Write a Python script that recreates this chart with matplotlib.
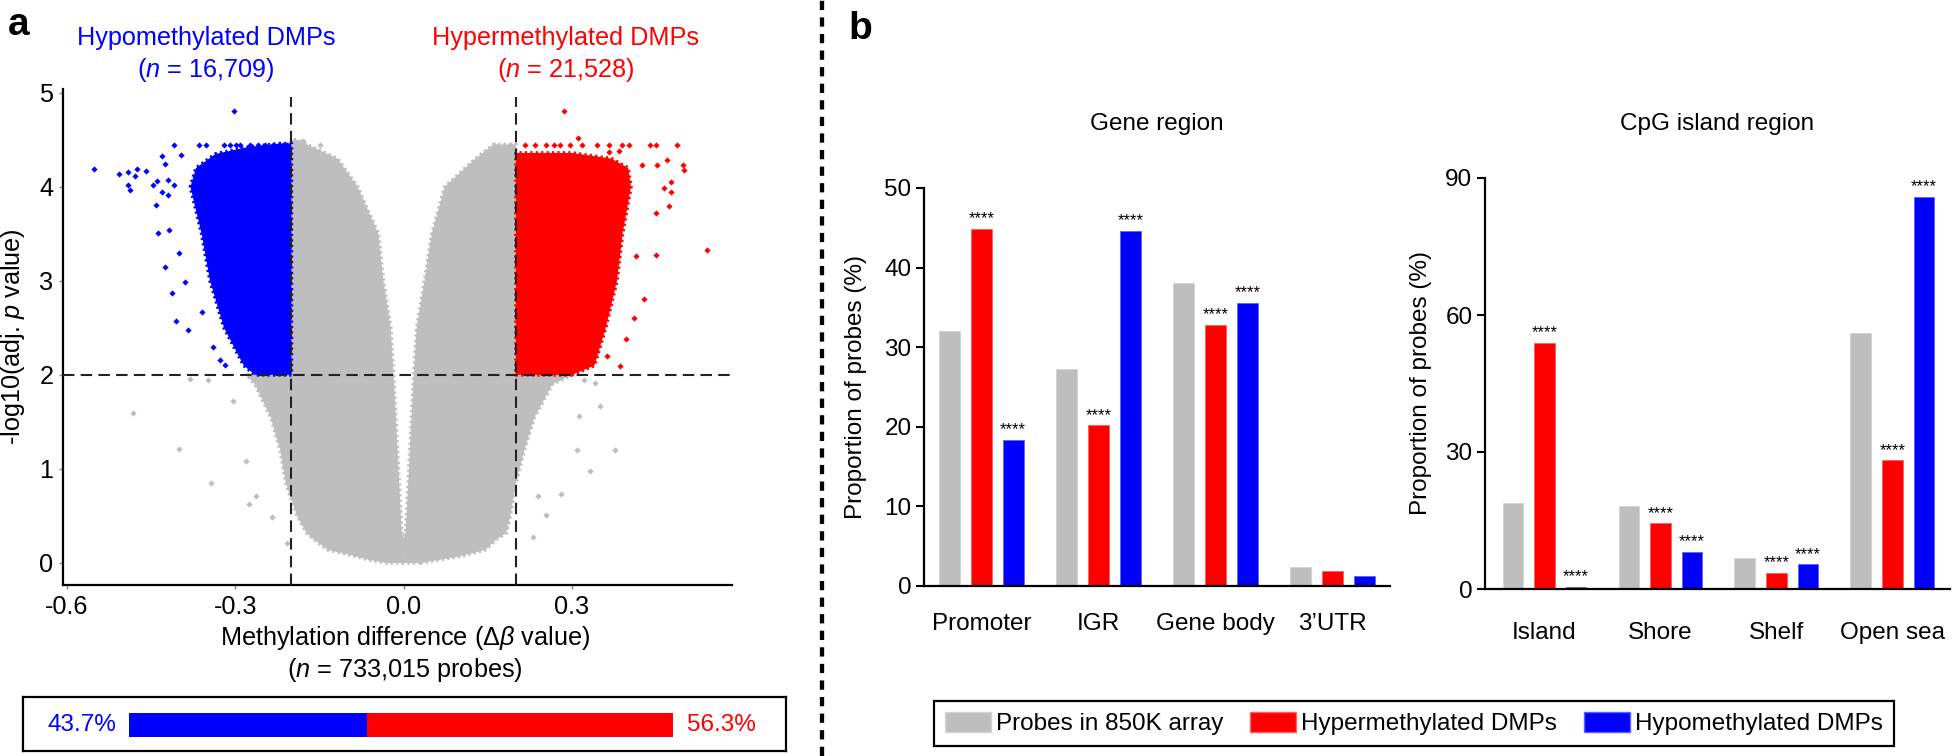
import matplotlib.pyplot as plt
from matplotlib.patches import Patch
from matplotlib.lines import Line2D

plt.rcParams['font.family'] = ['Liberation Sans', 'DejaVu Sans']
plt.rcParams['mathtext.fontset'] = 'custom'
plt.rcParams['mathtext.rm'] = 'Liberation Sans'
plt.rcParams['mathtext.it'] = 'Liberation Sans:italic'
plt.rcParams['axes.unicode_minus'] = False

GRAY = '#bebebe'
RED = '#ff0000'
BLUE = '#0000ff'

# ---------------- panel a: volcano (cloud outline) ----------------
dbeta_cut = 0.2
p_cut = 2.0

# left half of the gray cloud: y, outer edge, inner edge (white gap at 0)
gl_y = [0.0, 0.03, 0.07, 0.14, 0.25, 0.32, 0.5, 0.85, 1.2, 1.55, 1.9, 2.0, 2.0, 2.5, 3.0, 3.5, 4.0, 4.3, 4.5]
gl_outer = [-0.03, -0.06, -0.085, -0.135, -0.16, -0.173, -0.19, -0.21, -0.22, -0.237, -0.265, -0.28,
            -0.2, -0.2, -0.2, -0.2, -0.2, -0.2, -0.2]
gl_inner = [0, 0, 0, 0, 0, -0.003, -0.005, -0.008, -0.011, -0.014, -0.017, -0.018,
            -0.018, -0.023, -0.036, -0.045, -0.082, -0.118, -0.19]

# right half of the gray cloud
gr_y = [0.0, 0.03, 0.07, 0.14, 0.25, 0.32, 0.5, 0.85, 1.2, 1.55, 1.9, 2.0, 2.0, 2.5, 3.0, 3.5, 4.0, 4.3, 4.45]
gr_inner = [0, 0, 0, 0, 0, 0.003, 0.005, 0.008, 0.011, 0.014, 0.017, 0.018,
            0.018, 0.023, 0.037, 0.05, 0.073, 0.128, 0.16]
gr_outer = [0.03, 0.06, 0.1, 0.146, 0.165, 0.183, 0.19, 0.2, 0.215, 0.233, 0.265, 0.3,
            0.2, 0.2, 0.2, 0.2, 0.2, 0.2, 0.2]

# dense hypo (blue) and hyper (red) blocks
hypo_y = [2.0, 2.1, 2.5, 3.0, 3.5, 4.0, 4.2, 4.35, 4.42, 4.46]
hypo_edge = [-0.265, -0.285, -0.32, -0.345, -0.36, -0.38, -0.37, -0.335, -0.28, -0.22]
hyper_y = [2.0, 2.1, 2.5, 3.0, 3.5, 4.0, 4.2, 4.3, 4.36]
hyper_edge = [0.30, 0.34, 0.36, 0.38, 0.39, 0.405, 0.40, 0.37, 0.30]

# scattered single probes
hypo_px = [-0.302, -0.552, -0.507, -0.491, -0.475, -0.46, -0.478, -0.491, -0.488, -0.446, -0.43, -0.425,
           -0.409, -0.396, -0.365, -0.353, -0.32, -0.309, -0.299, -0.292, -0.274, -0.259, -0.247, -0.232,
           -0.223, -0.215, -0.207, -0.42, -0.41, -0.43, -0.42, -0.44, -0.441, -0.426, -0.437, -0.412,
           -0.405, -0.385, -0.328, -0.318, -0.418, -0.40, -0.39, -0.36, -0.34]
hypo_py = [4.81, 4.19, 4.14, 4.16, 4.19, 4.17, 4.12, 4.02, 3.97, 4.02, 4.33, 4.24,
           4.44, 4.34, 4.44, 4.44, 4.44, 4.44, 4.44, 4.44, 4.44, 4.44, 4.44, 4.44,
           4.44, 4.44, 4.44, 4.07, 4.02, 3.94, 3.91, 4.06, 3.81, 3.15, 3.51, 2.87,
           2.57, 2.48, 2.16, 2.11, 3.54, 3.30, 2.99, 2.67, 2.30]
hyper_px = [0.286, 0.311, 0.216, 0.234, 0.253, 0.268, 0.279, 0.297, 0.317, 0.344, 0.366, 0.389,
            0.402, 0.439, 0.45, 0.487, 0.497, 0.5, 0.47, 0.451, 0.476, 0.476, 0.425, 0.366, 0.384,
            0.54, 0.449, 0.473, 0.45, 0.464, 0.396, 0.385, 0.362, 0.414, 0.428, 0.41]
hyper_py = [4.81, 4.52, 4.44, 4.44, 4.44, 4.44, 4.44, 4.44, 4.44, 4.44, 4.44, 4.44,
            4.44, 4.44, 4.44, 4.44, 4.23, 4.18, 4.28, 4.23, 4.05, 3.94, 4.23, 4.37, 4.38,
            3.33, 3.28, 3.80, 3.72, 3.99, 2.38, 2.09, 2.20, 3.26, 2.81, 2.60]
gray_px = [-0.482, -0.40, -0.343, -0.281, -0.275, -0.304, -0.381, -0.349, 0.377, 0.35, 0.332, 0.281,
           0.254, 0.309, 0.313, 0.341, 0.322, -0.235, -0.263, 0.24, 0.231, -0.208,
           -0.179, -0.149, 0.161, 0.184, 0.192]
gray_py = [1.59, 1.21, 0.85, 1.08, 0.63, 1.72, 1.96, 1.95, 1.20, 1.67, 0.98, 0.73,
           0.51, 1.20, 1.56, 1.91, 1.95, 0.49, 0.71, 0.71, 0.28, 0.21,
           4.49, 4.44, 4.44, 4.36, 4.44]

n_hypo = '16,709'
n_hyper = '21,528'
n_probes = '733,015'
share_hypo = 43.7
share_hyper = 56.3

# ---------------- panel b: bar charts ----------------
gene_cats = ['Promoter', 'IGR', 'Gene body', '3\u2019UTR']
gene_all = [32.0, 27.3, 38.1, 2.4]
gene_hyper = [44.9, 20.2, 32.8, 1.9]
gene_hypo = [18.4, 44.6, 35.6, 1.2]
gene_sig = [True, True, True, False]

cpg_cats = ['Island', 'Shore', 'Shelf', 'Open sea']
cpg_all = [18.9, 18.2, 6.8, 56.0]
cpg_hyper = [53.9, 14.4, 3.6, 28.2]
cpg_hypo = [0.5, 8.2, 5.4, 85.8]
cpg_sig = [True, True, True, True]

legend_labels = ['Probes in 850K array', 'Hypermethylated DMPs', 'Hypomethylated DMPs']

W, H = 1952, 756
FS_A = 18.2   # text size in panel a
FS_B = 17.5   # text size in panel b


def fx(px):
    return px / W


def fy(py):
    return 1 - py / H


fig = plt.figure(figsize=(19.52, 7.56), dpi=100)

# ---- volcano
ax = fig.add_axes([fx(63), fy(585), (732 - 63) / W, (585 - 89) / H])
speck = dict(lw=2.6, linestyle=(0, (0.6, 0.9)), zorder=1)
ax.fill_betweenx(gl_y, gl_outer, gl_inner, facecolor=GRAY, edgecolor=GRAY, **speck)
ax.fill_betweenx(gr_y, gr_inner, gr_outer, facecolor=GRAY, edgecolor=GRAY, **speck)
speck['zorder'] = 2
ax.fill_betweenx(hypo_y, hypo_edge, [-dbeta_cut] * len(hypo_y), facecolor=BLUE, edgecolor=BLUE, **speck)
ax.fill_betweenx(hyper_y, [dbeta_cut] * len(hyper_y), hyper_edge, facecolor=RED, edgecolor=RED, **speck)
ax.scatter(gray_px, gray_py, s=10, marker='D', color=GRAY, lw=0, zorder=3)
ax.scatter(hypo_px, hypo_py, s=10, marker='D', color=BLUE, lw=0, zorder=3)
ax.scatter(hyper_px, hyper_py, s=10, marker='D', color=RED, lw=0, zorder=3)

ymin, ymax = -0.234, 5.04
dash = (0, (5.5, 3))
for xv in (-dbeta_cut, dbeta_cut):
    ax.plot([xv, xv], [ymin, 4.96], ls=dash, color='#222222', lw=1.5, zorder=5)
ax.axhline(p_cut, ls=dash, color='#222222', lw=1.5, zorder=5)

ax.set_xlim(-0.607, 0.585)
ax.set_ylim(ymin, ymax)
ax.set_xticks([-0.6, -0.3, 0.0, 0.3])
ax.set_xticklabels(['-0.6', '-0.3', '0.0', '0.3'])
ax.set_yticks([0, 1, 2, 3, 4, 5])
ax.tick_params(direction='out', length=3, width=1, color='#888888', labelsize=FS_A, pad=4)
for s in ('top', 'right'):
    ax.spines[s].set_visible(False)
for s in ('left', 'bottom'):
    ax.spines[s].set_linewidth(1.6)

fig.text(fx(13), fy(337), '-log10(adj. $\\mathit{p}$ value)', rotation=90, ha='center', va='center',
         fontsize=FS_A)
fig.text(fx(405), fy(638), 'Methylation difference (\u0394$\\mathit{\u03b2}$ value)', ha='center',
         va='center', fontsize=FS_A)
fig.text(fx(405), fy(670), '($\\mathit{n}$ = ' + n_probes + ' probes)', ha='center', va='center',
         fontsize=FS_A)

fig.text(fx(206), fy(38), 'Hypomethylated DMPs', ha='center', va='center', fontsize=FS_A, color=BLUE)
fig.text(fx(206), fy(70), '($\\mathit{n}$ = ' + n_hypo + ')', ha='center', va='center', fontsize=FS_A,
         color=BLUE)
fig.text(fx(566), fy(38), 'Hypermethylated DMPs', ha='center', va='center', fontsize=FS_A, color=RED)
fig.text(fx(566), fy(70), '($\\mathit{n}$ = ' + n_hyper + ')', ha='center', va='center', fontsize=FS_A,
         color=RED)

fig.text(fx(8), fy(35), 'a', ha='left', va='baseline', fontsize=28, fontweight='bold')
fig.text(fx(848), fy(39), 'b', ha='left', va='baseline', fontsize=28, fontweight='bold')

# ---- proportion strip under the volcano
axs = fig.add_axes([fx(23), fy(751), (786 - 23) / W, 54 / H])
axs.barh(0.48, share_hypo, left=0, height=0.44, color=BLUE)
axs.barh(0.48, share_hyper, left=share_hypo, height=0.44, color=RED)
axs.set_xlim(-19.5, 120.8)
axs.set_ylim(0, 1)
axs.set_xticks([])
axs.set_yticks([])
for s in axs.spines.values():
    s.set_linewidth(1.6)
axs.text(-8.6, 0.48, f'{share_hypo}%', color=BLUE, ha='center', va='center', fontsize=17.5)
axs.text(109, 0.48, f'{share_hyper}%', color=RED, ha='center', va='center', fontsize=17.5)

# ---- divider
fig.add_artist(Line2D([fx(822), fx(822)], [0, 1], transform=fig.transFigure, color='black', lw=3.1,
                      ls=(0, (2.15, 1.7))))


# ---- bar panels
def bar_panel(rect, xlim, cats, allp, hyper, hypo, sig, top, ticks, drop):
    b = fig.add_axes(rect)
    off, w = 0.272, 0.18
    xs = list(range(len(cats)))
    b.bar([i - off for i in xs], allp, w, color=GRAY, edgecolor='#d4d4d4', lw=0.6)
    b.bar(xs, hyper, w, color=RED, edgecolor='#ff6060', lw=0.6)
    b.bar([i + off for i in xs], hypo, w, color=BLUE, edgecolor='#6060ff', lw=0.6)
    for i in xs:
        if sig[i]:
            b.annotate('****', (i, hyper[i]), xytext=(0, 4), textcoords='offset points', ha='center',
                       va='baseline', fontsize=12)
            b.annotate('****', (i + off, hypo[i]), xytext=(0, 4), textcoords='offset points',
                       ha='center', va='baseline', fontsize=12)
        b.annotate(cats[i], (i, 0), xytext=(0, -drop), textcoords='offset points', ha='center',
                   va='baseline', fontsize=FS_B, annotation_clip=False)
    b.set_xlim(*xlim)
    b.set_ylim(0, top)
    b.set_yticks(ticks)
    b.set_xticks([])
    b.tick_params(axis='y', direction='out', length=6, width=1.5, labelsize=FS_B, pad=3)
    for s in ('top', 'right'):
        b.spines[s].set_visible(False)
    for s in ('left', 'bottom'):
        b.spines[s].set_linewidth(1.6)
    return b


gax = bar_panel([fx(924), fy(586), (1390 - 924) / W, (586 - 188) / H], (-0.49, 3.49), gene_cats,
                gene_all, gene_hyper, gene_hypo, gene_sig, 50, [0, 10, 20, 30, 40, 50], 31.7)
cax = bar_panel([fx(1485), fy(589), (1950 - 1485) / W, (589 - 178) / H], (-0.513, 3.496), cpg_cats,
                cpg_all, cpg_hyper, cpg_hypo, cpg_sig, 90, [0, 30, 60, 90], 36)

fig.text(fx(1157), fy(130), 'Gene region', ha='center', va='baseline', fontsize=FS_B)
fig.text(fx(1717), fy(130), 'CpG island region', ha='center', va='baseline', fontsize=FS_B)
fig.text(fx(856), fy(387), 'Proportion of probes (%)', rotation=90, ha='center', va='center',
         fontsize=FS_B)
fig.text(fx(1421), fy(383), 'Proportion of probes (%)', rotation=90, ha='center', va='center',
         fontsize=FS_B)

handles = [Patch(facecolor=GRAY, edgecolor='#d4d4d4'), Patch(facecolor=RED, edgecolor='#ff6060'),
           Patch(facecolor=BLUE, edgecolor='#6060ff')]
leg = fig.legend(handles, legend_labels, loc='center', bbox_to_anchor=(fx(1414), fy(723.5)), ncol=3,
                 fontsize=FS_B, handlelength=1.9, handleheight=0.9, handletextpad=0.2,
                 columnspacing=1.1, borderpad=0.45, frameon=True, fancybox=False,
                 edgecolor='black', framealpha=1)
leg.get_frame().set_linewidth(1.6)

fig.savefig('out.png', dpi=100)
